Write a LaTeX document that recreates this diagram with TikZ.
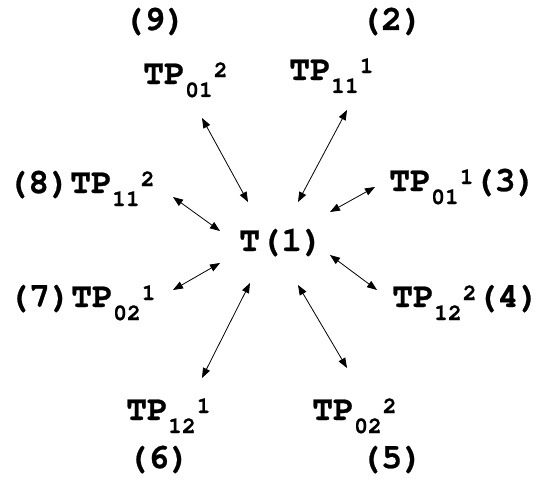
\documentclass[tikz,border=0pt]{standalone}
\usepackage{fontspec}
\setmainfont{TeX Gyre Cursor}[FakeBold=0.7]
\usetikzlibrary{arrows.meta}
\newcommand{\tplab}[2]{TP\raisebox{-13pt}{\fontsize{23}{23}\selectfont #1}\kern1pt\raisebox{7pt}{\fontsize{23}{23}\selectfont #2}}
\tikzset{
  lab/.style={anchor=base west, inner sep=0pt, font=\fontsize{35}{35}\selectfont\bfseries},
  link/.style={{Triangle[length=10pt,width=7.5pt]}-{Triangle[length=10pt,width=7.5pt]}, line width=0.8pt, black}
}
\begin{document}
\begin{tikzpicture}[x=1pt,y=-1pt]
\useasboundingbox[fill=white] (0,0) rectangle (540,487);
% labels
\node[lab] (n9)  at (123,30)  {(9)};
\node[lab] (tp9) at (143,84)  {\tplab{01}{2}};
\node[lab] (n2)  at (360,30)  {(2)};
\node[lab] (tp2) at (289,80)  {\tplab{11}{1}};
\node[lab] (tp8) at (7,193)   {(8)\tplab{11}{2}};
\node[lab] (tp3) at (389,191) {\tplab{01}{1}(3)};
\node[lab] (t1)  at (239,251) {T(1)};
\node[lab] (tp7) at (8,307)   {(7)\tplab{02}{1}};
\node[lab] (tp4) at (392,307) {\tplab{12}{2}(4)};
\node[lab] (tp6) at (126,420) {\tplab{12}{1}};
\node[lab] (n6)  at (127,468) {(6)};
\node[lab] (tp5) at (312,420) {\tplab{02}{2}};
\node[lab] (n5)  at (360,468) {(5)};
% arrow end points
\coordinate (a9) at (202,118); \coordinate (b9) at (248,202);
\coordinate (a8) at (173,197); \coordinate (b8) at (220,231);
\coordinate (a2) at (347,110); \coordinate (b2) at (298,202);
\coordinate (a3) at (375,187); \coordinate (b3) at (330,212);
\coordinate (a7) at (173,290); \coordinate (b7) at (220,263);
\coordinate (a6) at (202,378); \coordinate (b6) at (250,283);
\coordinate (a4) at (377,290); \coordinate (b4) at (330,255);
\coordinate (a5) at (347,368); \coordinate (b5) at (298,285);
\foreach \i in {9,8,2,3,7,6,4,5} \draw[link] (a\i) -- (b\i);
\end{tikzpicture}
\end{document}
